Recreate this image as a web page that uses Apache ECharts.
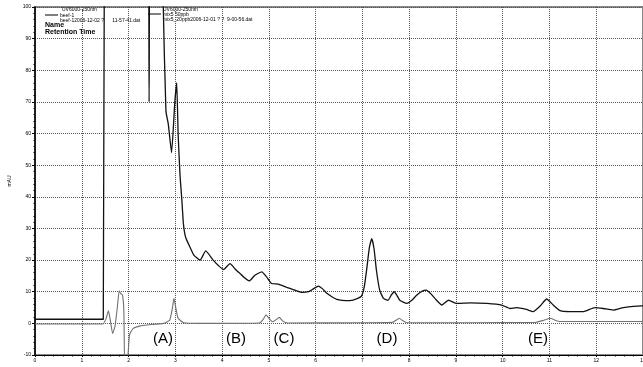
<!DOCTYPE html>
<html>
<head>
<meta charset="utf-8">
<script src="https://cdn.jsdelivr.net/npm/echarts@6/dist/echarts.min.js"></script>
<style>
  html, body { margin: 0; padding: 0; background: #fff; }
  #chart { width: 643px; height: 367px; }
</style>
</head>
<body>
<div id="chart"></div>
<script>
// beef-1 trace (black), minutes / mAU
const beefTimes = [0, 1.46, 1.49, 2.40, 2.44, 2.48, 2.72, 2.74, 2.80, 2.85, 2.92, 2.99, 3.03, 3.06, 3.10, 3.14, 3.17, 3.20, 3.23, 3.31, 3.40, 3.53, 3.65, 3.81, 3.92, 4.03, 4.17, 4.28, 4.38, 4.48, 4.58, 4.70, 4.85, 4.95, 5.06, 5.20, 5.38, 5.52, 5.70, 5.85, 5.96, 6.06, 6.15, 6.24, 6.45, 6.74, 6.90, 6.98, 7.04, 7.09, 7.15, 7.20, 7.25, 7.30, 7.37, 7.45, 7.55, 7.62, 7.68, 7.74, 7.80, 7.95, 8.05, 8.16, 8.28, 8.37, 8.46, 8.55, 8.70, 8.84, 9.02, 9.30, 9.66, 9.98, 10.16, 10.30, 10.51, 10.65, 10.80, 10.94, 11.08, 11.23, 11.44, 11.72, 11.97, 12.15, 12.36, 12.58, 12.97, 13]
const beefValues = [1.3, 1.3, 150, 150, 70, 150, 150, 102, 67, 63, 54, 70, 76, 60, 47, 39, 32, 28.5, 26.8, 24.2, 21.5, 20.0, 22.9, 20.0, 18.3, 17.0, 18.9, 17.2, 15.8, 14.4, 13.4, 15.2, 16.3, 14.7, 12.6, 12.4, 11.4, 10.7, 9.8, 10.0, 11.0, 11.8, 10.9, 9.5, 7.6, 7.2, 7.9, 8.6, 11.5, 16.8, 24.0, 26.8, 23.5, 16.8, 10.5, 7.9, 7.3, 9.0, 10.0, 8.8, 7.3, 6.3, 7.2, 8.9, 10.2, 10.5, 9.4, 7.9, 5.8, 7.3, 6.3, 6.5, 6.3, 5.8, 4.7, 5.0, 4.4, 3.7, 5.5, 7.7, 5.8, 4.0, 3.7, 3.7, 5.0, 4.7, 4.2, 5.0, 5.5, 5.5]

// mix5 50ppb trace (grey)
const mixTimes = [0, 1.45, 1.52, 1.57, 1.61, 1.66, 1.71, 1.76, 1.80, 1.83, 1.87, 1.90, 1.92, 1.96, 2.02, 2.10, 2.25, 2.40, 2.75, 2.88, 2.94, 2.97, 3.01, 3.06, 3.18, 3.50, 4.80, 4.88, 4.94, 5.00, 5.08, 5.16, 5.22, 5.30, 5.40, 7.00, 7.65, 7.72, 7.79, 7.86, 7.95, 10.70, 10.88, 11.02, 11.12, 11.22, 13]
const mixValues = [-0.2, -0.2, 1.5, 4.0, 1.0, -3.2, -1.0, 5.0, 10.3, 9.5, 8.9, 4.0, -15, -15, -3.7, -1.6, -0.8, -0.5, 0, 1.0, 5.0, 7.9, 5.0, 1.6, 0.2, 0, 0.1, 1.3, 2.7, 1.6, 0.5, 1.2, 1.9, 0.7, 0.1, 0.2, 0.3, 1.0, 1.6, 0.9, 0.2, 0.3, 1.0, 1.6, 1.0, 0.6, 0.6]

const peakLabels = ['(A)', '(B)', '(C)', '(D)', '(E)']
const peakLabelX = [163, 236, 284, 387, 538]

const zip = (xs, ys) => xs.map((x, i) => [x, ys[i]])

const chart = echarts.init(document.getElementById('chart'), null, { renderer: 'canvas' })

const tinyFont = { fontFamily: 'Liberation Sans, Arial, sans-serif', fontSize: 5, color: '#000' }
const gridLine = { show: true, lineStyle: { color: '#555', type: [1, 1], width: 1 } }

const option = {
  animation: false,
  backgroundColor: '#fff',
  grid: {
    left: 35, right: 0, top: 7, bottom: 12,
    containLabel: false,
    outerBoundsMode: 'none',
    show: true, borderColor: '#888', borderWidth: 2,
  },
  xAxis: {
    type: 'value',
    min: 0,
    max: 13,
    interval: 1,
    name: 'Minutes',
    nameLocation: 'middle',
    nameGap: 8,
    nameTextStyle: { fontSize: 4, fontFamily: 'Liberation Sans, Arial, sans-serif' },
    axisLine: { onZero: false, lineStyle: { color: '#000', width: 1.2 } },
    axisTick: { length: 2, lineStyle: { color: '#000' } },
    minorTick: { show: true, splitNumber: 5, length: 1.5, lineStyle: { color: '#000' } },
    axisLabel: Object.assign({ margin: 3 }, tinyFont),
    splitLine: gridLine,
  },
  yAxis: {
    type: 'value',
    min: -10,
    max: 100,
    interval: 10,
    name: 'mAU',
    nameLocation: 'middle',
    nameGap: 22,
    nameRotate: 90,
    nameTextStyle: { fontSize: 5, fontFamily: 'Liberation Sans, Arial, sans-serif' },
    axisLine: { show: true, lineStyle: { color: '#000', width: 1.5 } },
    axisTick: { show: true, length: 3, lineStyle: { color: '#000' } },
    minorTick: { show: true, splitNumber: 5, length: 1.5, lineStyle: { color: '#000' } },
    axisLabel: Object.assign({ margin: 4 }, tinyFont),
    splitLine: gridLine,
  },
  series: [
    {
      name: 'beef-1',
      type: 'line',
      data: zip(beefTimes, beefValues),
      showSymbol: false,
      smooth: 0.15,
      clip: true,
      lineStyle: { color: '#111', width: 1.3 },
      z: 3,
    },
    {
      name: 'mix5 50ppb',
      type: 'line',
      data: zip(mixTimes, mixValues),
      showSymbol: false,
      smooth: 0.15,
      clip: true,
      lineStyle: { color: '#707070', width: 1.1 },
      z: 2,
    },
  ],
  graphic: [
    // legend for beef-1
    { type: 'line', shape: { x1: 45, y1: 15, x2: 58, y2: 15 }, style: { stroke: '#000', lineWidth: 1 } },
    { type: 'text', left: 62, top: 7, style: { text: 'UV6000-250nm', fontSize: 5, fill: '#000', fontFamily: 'Liberation Sans' } },
    { type: 'text', left: 60, top: 13, style: { text: 'beef-1', fontSize: 5, fill: '#000', fontFamily: 'Liberation Sans' } },
    { type: 'text', left: 60, top: 18, style: { text: 'beef-12006-12-02 ?      11-57-41.dat', fontSize: 5, fill: '#000', fontFamily: 'Liberation Sans' } },
    { type: 'text', left: 45, top: 22, style: { text: 'Name', fontSize: 7, fontWeight: 'bold', fill: '#000', fontFamily: 'Liberation Sans' } },
    { type: 'text', left: 45, top: 29, style: { text: 'Retention Time', fontSize: 7, fontWeight: 'bold', fill: '#000', fontFamily: 'Liberation Sans' } },
    // legend for mix5
    { type: 'line', shape: { x1: 148, y1: 14, x2: 161, y2: 14 }, style: { stroke: '#000', lineWidth: 1 } },
    { type: 'text', left: 163, top: 7, style: { text: 'UV6000-250nm', fontSize: 5, fill: '#000', fontFamily: 'Liberation Sans' } },
    { type: 'text', left: 163, top: 12, style: { text: 'mix5 50ppb', fontSize: 5, fill: '#000', fontFamily: 'Liberation Sans' } },
    { type: 'text', left: 163, top: 17, style: { text: 'mix5_20ppb2006-12-01 ? ?  9-00-56.dat', fontSize: 5, fill: '#000', fontFamily: 'Liberation Sans' } },
    // peak markers
    ...peakLabels.map((t, i) => ({
      type: 'text',
      x: peakLabelX[i],
      y: 339,
      style: { text: t, fontSize: 15, fill: '#000', align: 'center', verticalAlign: 'middle', fontFamily: 'Liberation Sans, Arial, sans-serif' },
      z: 10,
    })),
  ],
}

chart.setOption(option)
</script>
</body>
</html>
